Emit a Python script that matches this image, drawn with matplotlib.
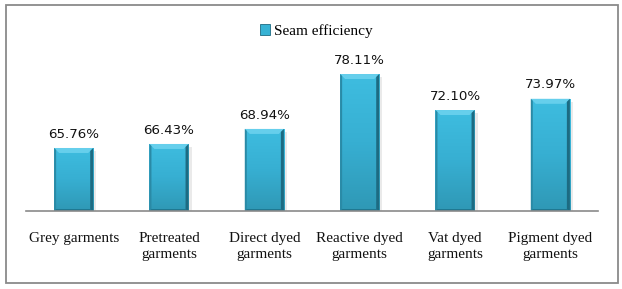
import matplotlib
matplotlib.use("Agg")
import matplotlib.pyplot as plt
import numpy as np
from matplotlib.patches import Patch, Rectangle, Polygon
from matplotlib.colors import LinearSegmentedColormap
from matplotlib.transforms import IdentityTransform

categories = ["Grey garments", "Pretreated\ngarments", "Direct dyed\ngarments",
              "Reactive dyed\ngarments", "Vat dyed\ngarments", "Pigment dyed\ngarments"]
values = [65.76, 66.43, 68.94, 78.11, 72.10, 73.97]
value_labels = ["65.76%", "66.43%", "68.94%", "78.11%", "72.10%", "73.97%"]
series_name = "Seam efficiency"

W, H = 622, 289
fig = plt.figure(figsize=(W / 100, H / 100), dpi=100)
fig.patch.set_facecolor("white")

# outer frame
fig.patches.append(Rectangle((6 / W, 1 - 283 / H), (618 - 6) / W, (283 - 5) / H,
                             transform=fig.transFigure, fill=False,
                             edgecolor="#8a8a8a", linewidth=1.3, zorder=0))

ax = fig.add_axes([26 / W, 1 - 211 / H, 572 / W, (211 - 30) / H])
ymin = 55.24
ymax = ymin + 181 / 5.99

x = np.arange(len(categories))
bars = ax.bar(x, [v - ymin for v in values], bottom=ymin, width=0.41,
              color="#36b2d4", zorder=2, linewidth=0)
ax.set_xlim(-0.5, len(categories) - 0.5)
ax.set_ylim(ymin, ymax)

cmap = LinearSegmentedColormap.from_list("b", ["#2f98b5", "#37afd2", "#3ebde0"])
grad = np.linspace(0, 1, 256).reshape(-1, 1)
fig.canvas.draw()
for b in bars:
    bx, by, bw, bh = b.get_x(), b.get_y(), b.get_width(), b.get_height()
    im = ax.imshow(grad, extent=[bx, bx + bw, by, by + bh], origin="lower",
                   aspect="auto", cmap=cmap, zorder=3)
    im.set_clip_path(b)
    (x0, y0), (x1, y1) = ax.transData.transform([(bx, by), (bx + bw, by + bh)])
    # shadow
    ax.add_patch(Rectangle((x1, y0), 3, (y1 - y0) - 3, transform=IdentityTransform(),
                           facecolor="#dcdcdc", alpha=0.6, linewidth=0, zorder=1))
    bev = 5
    # top bevel
    ax.add_patch(Polygon([(x0, y1), (x1, y1), (x1 - bev, y1 - bev), (x0 + bev, y1 - bev)],
                         transform=IdentityTransform(), facecolor="#66cfec",
                         linewidth=0, zorder=4))
    # left bevel
    ax.add_patch(Polygon([(x0, y1), (x0 + 2, y1 - 2), (x0 + 2, y0), (x0, y0)],
                         transform=IdentityTransform(), facecolor="#2a8aa6",
                         linewidth=0, zorder=4))
    # right bevel
    ax.add_patch(Polygon([(x1, y1), (x1 - 3, y1 - 3), (x1 - 3, y0), (x1, y0)],
                         transform=IdentityTransform(), facecolor="#1d6b82",
                         linewidth=0, zorder=4))
    # bottom bevel
    ax.add_patch(Polygon([(x0, y0), (x1, y0), (x1 - 3, y0 + 2), (x0 + 2, y0 + 2)],
                         transform=IdentityTransform(), facecolor="#1f7891",
                         linewidth=0, zorder=4))

for xi, v, lab in zip(x, values, value_labels):
    ax.annotate(lab, (xi, v), xytext=(0, 7.5), textcoords="offset points",
                ha="center", va="baseline", fontsize=9.6, family="DejaVu Sans",
                color="#111111", zorder=5)

for s in ["top", "left", "right"]:
    ax.spines[s].set_visible(False)
ax.spines["bottom"].set_color("#8a8a8a")
ax.spines["bottom"].set_linewidth(1.2)
ax.spines["bottom"].set_zorder(6)
ax.set_yticks([])
ax.set_xticks(x)
ax.set_xticklabels(categories, fontsize=11, family="Liberation Serif",
                   linespacing=1.35, color="#111111")
ax.tick_params(axis="x", length=0, pad=15)
ax.set_facecolor("none")

fig.legend(handles=[Patch(facecolor="#36b2d4", edgecolor="#1d6b82", linewidth=0.6,
                          label=series_name)],
           loc="center", bbox_to_anchor=(316.5 / W, 1 - 31 / H), frameon=False,
           handlelength=0.65, handleheight=0.65, handletextpad=0.3,
           prop={"family": "Liberation Serif", "size": 11})

fig.savefig("out.png", dpi=100, facecolor="white")
